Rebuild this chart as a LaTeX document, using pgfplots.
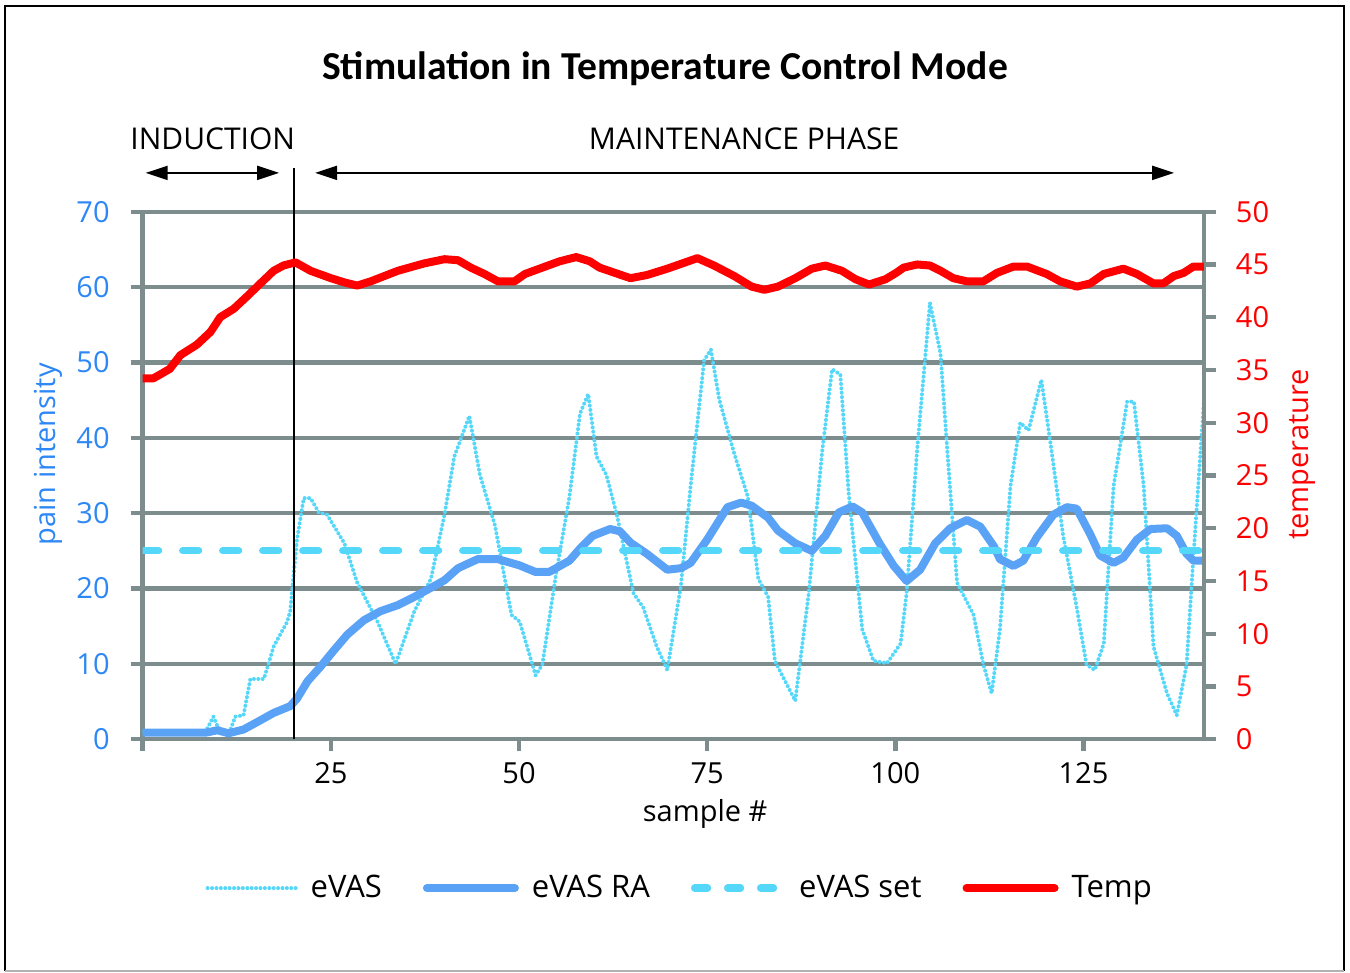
\documentclass[border=0pt]{standalone}
\usepackage{fontspec}
\setmainfont{Open Sans}
\newfontfamily\carlito{Carlito}
\usepackage{pgfplots}
\pgfplotsset{compat=1.18}
\usepackage{pgfplotstable}
\usetikzlibrary{arrows.meta}
\definecolor{gridgray}{RGB}{125,140,140}
\definecolor{evas}{RGB}{85,215,250}
\definecolor{evasra}{RGB}{90,162,245}
\definecolor{leftblue}{RGB}{45,135,245}
\definecolor{tempred}{RGB}{255,0,0}

\pgfplotstableread{
x y
0 1
8 1
8.5 1.3
9.4 3.0
10 1.6
11.4 0.6
12.3 3.0
13.4 3.2
14.3 8.0
16.1 8.0
17.4 12.3
19.2 15.6
19.6 17.0
20.5 26.5
21.4 32.0
22.3 32.0
23.4 30.1
24.5 29.8
26.8 26.0
28.5 20.8
31.2 15.6
33.6 10.0
36.1 17.0
38.3 21.3
40.1 29.8
41.4 37.5
43.4 42.9
44.8 35.1
46.8 28.4
49.0 16.5
50.1 15.6
52.2 8.5
53.1 9.9
54.9 21.8
56.7 32.2
58.1 43.2
59.2 45.8
60.3 37.5
61.6 35.1
63.0 29.8
65.2 19.4
66.5 17.5
68.3 12.3
69.7 9.2
71.5 20.3
72.8 33.6
74.6 50.3
75.5 51.7
76.6 45.1
78.6 37.9
80.4 32.2
81.8 21.3
83.1 18.9
84.0 10.4
86.7 5.1
88.5 19.4
90.3 38.4
91.6 49.1
92.7 48.4
93.8 32.7
95.6 14.6
97.1 10.4
98.9 10.1
100.7 12.7
101.5 19.4
102.9 38.4
104.6 57.9
106.0 51.2
106.9 38.4
108.2 20.8
110.4 16.5
111.7 9.9
112.8 6.1
113.9 14.6
115.3 33.6
116.6 42.0
117.7 41.0
119.4 47.7
120.6 39.4
122.3 27.0
124.1 17.5
125.4 9.9
126.5 9.2
127.7 12.7
129.0 33.6
130.8 44.8
131.7 44.8
133.0 33.6
134.3 12.3
136.1 6.1
137.4 3.2
138.7 9.9
139.6 24.1
141.0 44.8
}\evastable

\pgfplotstableread{
x y
0 0.9
8.5 0.9
9.9 1.2
11.4 0.8
13.4 1.3
15.6 2.5
17.4 3.5
19.6 4.4
20.5 5.4
21.9 7.7
23.6 9.6
25.4 11.8
27.2 13.9
29.4 15.8
31.6 17.0
33.9 17.8
36.1 18.9
38.3 20.1
40.1 21.1
41.9 22.7
44.5 23.9
47.2 23.9
50.0 23.1
52.2 22.2
54.0 22.2
56.7 23.7
58.1 25.3
59.8 27.0
62.1 27.9
63.4 27.6
64.8 26.1
67.0 24.6
69.7 22.5
71.5 22.7
72.8 23.4
75.0 26.5
77.7 30.8
79.5 31.4
80.9 31.0
83.1 29.4
84.4 27.7
86.7 26.0
88.9 25.0
90.7 27.0
92.5 30.1
94.3 30.9
95.6 30.1
97.9 26.0
99.8 23.0
101.5 21.0
103.3 22.5
105.3 26.0
107.3 28.0
109.5 29.1
111.3 28.2
113.1 25.6
113.9 23.9
115.7 23.0
117.0 23.7
118.8 26.8
121.0 29.8
122.8 30.8
124.1 30.6
125.9 27.2
127.2 24.4
129.0 23.4
130.3 24.1
132.1 26.5
133.9 27.9
136.1 28.0
137.4 27.0
138.7 24.6
139.6 23.7
141.0 23.7
}\ratable

\pgfplotstableread{
x y
0 34.2
1.4 34.2
3.6 35.1
5 36.4
7.2 37.4
9 38.6
10.3 40
12.1 40.8
13.9 42
15.2 42.9
17.4 44.4
18.7 44.9
20.3 45.2
22.3 44.4
25 43.7
26.8 43.3
28.5 43.0
30.3 43.4
33.9 44.4
37.4 45.1
40.1 45.5
41.9 45.4
43.6 44.7
45.4 44.1
47.2 43.4
49.4 43.4
50.8 44.1
53.1 44.7
55.4 45.3
57.6 45.7
59.4 45.3
60.7 44.7
64.8 43.7
67 44
69.7 44.6
73.7 45.6
75.9 44.9
78.6 43.9
80.9 42.9
82.6 42.6
84.4 42.9
86.7 43.7
88.9 44.6
90.7 44.9
92.9 44.4
94.7 43.6
96.5 43.1
98.7 43.6
100.1 44.2
101.1 44.7
102.9 45.0
104.6 44.9
106 44.4
107.7 43.7
109.5 43.4
111.7 43.4
113.5 44.2
115.7 44.8
117.5 44.8
120.1 44.1
121.9 43.4
124.1 42.9
125.9 43.2
127.7 44.1
130.3 44.6
132.1 44.1
134.3 43.2
135.6 43.2
137 43.9
138.3 44.2
139.6 44.8
141 44.8
}\temptable

\begin{document}
\begin{tikzpicture}
\useasboundingbox (-71.35pt,-116.85pt) rectangle (603.65pt,369.65pt);
\pgfplotsset{
  common/.style={
    at={(0pt,0pt)}, anchor=south west, scale only axis,
    width=530.6pt, height=263.8pt,
    xmin=0, xmax=141,
    /pgf/number format/assume math mode=true,
    tick label style={font=\fontsize{14.5}{17}\selectfont},
    label style={font=\fontsize{14.5}{17}\selectfont},
    axis line style={gridgray, line width=2.2pt},
    major tick style={gridgray, line width=2.2pt},
    tick align=outside, major tick length=6pt,
    legend image code/.code={\draw[#1] (0pt,0pt) -- (44pt,0pt);},
  }
}
\begin{axis}[common,
  axis x line*=bottom, axis y line*=left,
  ymin=0, ymax=70, ytick={0,10,...,70},
  ymajorgrids, major grid style={gridgray, line width=2.2pt},
  xtick={0,25,50,75,100,125}, xticklabels={,25,50,75,100,125},
  yticklabel style={leftblue, xshift=-7pt},
  xticklabel style={yshift=-2pt},
  xlabel={sample \#}, ylabel={pain intensity},
  xlabel style={at={(axis description cs:0.53,-0.155)}, anchor=base},
  ylabel style={leftblue, at={(axis description cs:-0.089,0.54)}, anchor=center},
]
\addplot[evas, line width=2pt, line cap=round, dash pattern=on 0pt off 2.2pt] table[x=x,y=y] {\evastable};
\addplot[evasra, line width=4pt, line join=round] table[x=x,y=y] {\ratable};
\addplot[evas, line width=3.6pt, line cap=round, dash pattern=on 8pt off 12pt] coordinates {(0,25) (141,25)};
\end{axis}
\draw[black, line width=1pt] (75.8pt,0pt) -- (75.8pt,285.6pt);
\begin{axis}[common,
  axis x line=none, axis y line*=right,
  ymin=0, ymax=50, ytick={0,5,...,50},
  yticklabel style={tempred, xshift=6.5pt},
  ylabel={temperature},
  ylabel style={tempred, at={(axis description cs:1.0926,0.54)}, anchor=center, rotate=0},
  legend columns=4,
  legend style={at={(axis description cs:0.507,-0.282)}, anchor=center, draw=none, fill=none,
    font=\fontsize{15.5}{18}\selectfont,
    /tikz/every odd column/.append style={column sep=4.5pt},
    /tikz/every even column/.append style={column sep=18.5pt}},
]
\addlegendimage{evas, line width=2pt, line cap=round, dash pattern=on 0pt off 2.2pt}
\addlegendentry{eVAS}
\addlegendimage{evasra, line width=4pt, line cap=round}
\addlegendentry{eVAS RA}
\addlegendimage{evas, line width=3.6pt, line cap=round, dash pattern=on 6.5pt off 10pt}
\addlegendentry{eVAS set}
\addplot[tempred, line width=4pt, line join=round, line cap=round] table[x=x,y=y] {\temptable};
\addlegendentry{Temp}
\end{axis}
% annotations
\draw[line width=1pt, {Triangle[length=11pt,width=7pt]}-{Triangle[length=11pt,width=7pt]}] (1.5pt,283.2pt) -- (68.2pt,283.2pt);
\draw[line width=1pt, {Triangle[length=11pt,width=7pt]}-{Triangle[length=11pt,width=7pt]}] (86.2pt,283.2pt) -- (515.7pt,283.2pt);
\node[anchor=base, font=\fontsize{15}{18}\selectfont, inner sep=0pt] at (35pt,294.7pt) {INDUCTION};
\node[anchor=base, font=\fontsize{15}{18}\selectfont, inner sep=0pt] at (300.7pt,294.7pt) {MAINTENANCE PHASE};
\node[anchor=base, font=\carlito\bfseries\fontsize{19.8}{23}\selectfont, inner sep=0pt] at (261.2pt,329.7pt) {Stimulation in Temperature Control Mode};
\draw[black, line width=1.2pt] (600.65pt,-115.85pt) -- (600.65pt,366.65pt) -- (-68.85pt,366.65pt) -- (-68.85pt,-115.85pt);
\draw[black!30, line width=1pt] (-68.85pt,-115.85pt) -- (600.65pt,-115.85pt);
\end{tikzpicture}
\end{document}
